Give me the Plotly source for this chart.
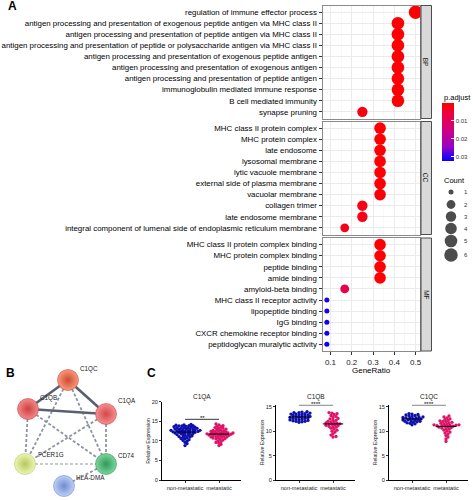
import plotly.graph_objects as go

W, H = 473, 500
FONT = "Liberation Sans, Arial, sans-serif"
TXT = "#000000"


def px_x(p):
    return p / W


def px_y(p):
    return 1 - p / H


# ---------------- Panel A data (GO enrichment) ----------------
bp_terms = [
    "regulation of immune effector process",
    "antigen processing and presentation of exogenous peptide antigen via MHC class II",
    "antigen processing and presentation of peptide antigen via MHC class II",
    "antigen processing and presentation of peptide or polysaccharide antigen via MHC class II",
    "antigen processing and presentation of exogenous peptide antigen",
    "antigen processing and presentation of exogenous antigen",
    "antigen processing and presentation of peptide antigen",
    "immunoglobulin mediated immune response",
    "B cell mediated immunity",
    "synapse pruning",
]
bp_ratio = [0.5, 0.417, 0.417, 0.417, 0.417, 0.417, 0.417, 0.417, 0.417, 0.25]
bp_count = [6, 5, 5, 5, 5, 5, 5, 5, 5, 3]
bp_padj = [0.0002, 0.0003, 0.0003, 0.0003, 0.0004, 0.0005, 0.0005, 0.0006, 0.0006, 0.0021]

cc_terms = [
    "MHC class II protein complex",
    "MHC protein complex",
    "late endosome",
    "lysosomal membrane",
    "lytic vacuole membrane",
    "external side of plasma membrane",
    "vacuolar membrane",
    "collagen trimer",
    "late endosome membrane",
    "integral component of lumenal side of endoplasmic reticulum membrane",
]
cc_ratio = [0.333, 0.333, 0.333, 0.333, 0.333, 0.333, 0.333, 0.25, 0.25, 0.167]
cc_count = [4, 4, 4, 4, 4, 4, 4, 3, 3, 2]
cc_padj = [0.0003, 0.0003, 0.0004, 0.0005, 0.0005, 0.0006, 0.0007, 0.0020, 0.0022, 0.0025]

mf_terms = [
    "MHC class II protein complex binding",
    "MHC protein complex binding",
    "peptide binding",
    "amide binding",
    "amyloid-beta binding",
    "MHC class II receptor activity",
    "lipopeptide binding",
    "IgG binding",
    "CXCR chemokine receptor binding",
    "peptidoglycan muralytic activity",
]
mf_ratio = [0.333, 0.333, 0.333, 0.333, 0.167, 0.083, 0.083, 0.083, 0.083, 0.083]
mf_count = [4, 4, 4, 4, 2, 1, 1, 1, 1, 1]
mf_padj = [0.0004, 0.0004, 0.0005, 0.0005, 0.0075, 0.0310, 0.0312, 0.0314, 0.0316, 0.0320]

x_ticks = [0.1, 0.2, 0.3, 0.4, 0.5]
count_levels = [1, 2, 3, 4, 5, 6]
padj_ticks = [0.01, 0.02, 0.03]

# ---------------- Panel B data (network) ----------------
net_nodes = ["C1QC", "C1QB", "C1QA", "FCER1G", "CD74", "HLA-DMA"]
net_edges_solid = [("C1QC", "C1QA"), ("C1QB", "C1QA"), ("C1QB", "C1QC")]
net_edges_dashed = [
    ("C1QC", "FCER1G"), ("C1QC", "CD74"), ("C1QB", "FCER1G"), ("C1QB", "CD74"),
    ("C1QA", "FCER1G"), ("C1QA", "CD74"), ("CD74", "HLA-DMA"),
]
net_edges_light = [("FCER1G", "CD74")]

# ---------------- Panel C data (expression) ----------------
groups = ["non-metastatic", "metastatic"]
c1qa_non = [14.2, 14.1, 14.0, 13.9, 13.9, 13.8, 13.8, 13.7, 13.6, 13.5, 13.5, 13.4, 13.4, 13.3,
            13.2, 13.2, 13.1, 13.0, 13.0, 12.9, 12.9, 12.8, 12.8, 12.7, 12.7, 12.6, 12.6, 12.5,
            12.5, 12.4, 12.4, 12.3, 12.3, 12.2, 12.2, 12.1, 12.0, 12.0, 11.9, 11.8, 11.8, 11.7,
            11.6, 11.5, 11.4, 11.3, 11.2, 11.1, 11.0, 10.9, 10.8, 10.6, 10.5, 10.3, 10.1, 9.9,
            9.6, 9.3, 8.8]
c1qa_met = [14.3, 14.1, 13.9, 13.7, 13.6, 13.4, 13.3, 13.2, 13.0, 12.9, 12.8, 12.7, 12.6, 12.5,
            12.4, 12.4, 12.3, 12.2, 12.1, 12.1, 12.0, 12.0, 11.9, 11.9, 11.8, 11.8, 11.7, 11.7,
            11.6, 11.6, 11.5, 11.5, 11.4, 11.3, 11.3, 11.2, 11.1, 11.0, 11.0, 10.9, 10.8, 10.7,
            10.6, 10.5, 10.4, 10.2, 10.0, 9.8, 9.6, 9.4, 9.1, 8.8]
c1qb_non = [14.0, 13.9, 13.8, 13.8, 13.7, 13.6, 13.5, 13.5, 13.4, 13.3, 13.3, 13.2, 13.1, 13.0,
            13.0, 12.9, 12.8, 12.8, 12.7, 12.6, 12.6, 12.5, 12.4, 12.3, 12.3, 12.2, 12.1, 12.0,
            12.0, 11.9, 11.8]
c1qb_met = [13.8, 13.7, 13.6, 13.4, 13.2, 13.0, 12.8, 12.6, 12.5, 12.3, 12.2, 12.0, 11.9, 11.8,
            11.7, 11.6, 11.5, 11.5, 11.4, 11.3, 11.2, 11.1, 11.0, 10.9, 10.8, 10.6, 10.4, 10.2,
            10.0, 9.8, 9.5, 9.2, 8.9, 8.8]
c1qc_non = [13.6, 13.5, 13.4, 13.3, 13.2, 13.1, 13.0, 12.9, 12.9, 12.8, 12.7, 12.7, 12.6, 12.5,
            12.5, 12.4, 12.3, 12.3, 12.2, 12.1, 12.0, 12.0, 11.9, 11.8, 11.7, 11.6, 11.5, 11.3]
c1qc_met = [13.1, 12.9, 12.7, 12.5, 12.4, 12.2, 12.1, 12.0, 11.9, 11.8, 11.7, 11.6, 11.5, 11.4,
            11.3, 11.3, 11.2, 11.2, 11.1, 11.1, 11.0, 11.0, 10.9, 10.8, 10.7, 10.6, 10.5, 10.4,
            10.2, 10.0, 9.8, 9.6, 9.4, 9.1, 8.8, 8.4, 7.9]
c_genes = ["C1QA", "C1QB", "C1QC"]
c_sig = ["**", "****", "****"]
c_sig_y = [15.5, 15.35, 15.35]
c_ymax = [20, 15, 15]


# ---------------- helpers (styling / layout) ----------------
def dot_size(c, cmin=1, cmax=6, smin=5.0, smax=13.5):
    return smin + ((c - cmin) / (cmax - cmin)) ** 0.5 * (smax - smin)


def swarm(vals, ppu_y, ppu_x, mind=2.3, step=1.0):
    order = sorted(range(len(vals)), key=lambda i: vals[i])
    placed = []
    offs = [0.0] * len(vals)
    cands = [0.0]
    for k in range(1, 60):
        cands += [k * step, -k * step]
    for i in order:
        y = vals[i] * ppu_y
        for c in cands:
            if all((c - px) ** 2 + (y - py) ** 2 >= mind ** 2 for px, py in placed):
                break
        placed.append((c, y))
        offs[i] = c / ppu_x
    return offs


def note(text, x, y, size, xref="paper", yref="paper", xanchor="center", yanchor="middle",
         color=TXT, angle=0, yshift=0):
    return dict(text=text, x=x, y=y, xref=xref, yref=yref, xanchor=xanchor, yanchor=yanchor,
                showarrow=False, textangle=angle, yshift=yshift,
                font=dict(size=size, color=color, family=FONT))


fig = go.Figure()
annotations = []
shapes = []

# ================= Panel A =================
facets = [
    ("BP", bp_terms, bp_ratio, bp_count, bp_padj, (5.5, 118.5)),
    ("CC", cc_terms, cc_ratio, cc_count, cc_padj, (121.5, 234.5)),
    ("MF", mf_terms, mf_ratio, mf_count, mf_padj, (238.0, 351.0)),
]
A_X0, A_X1 = 322.5, 420.0
layout_axes = {}
for i, (lab, terms, ratio, count, padj, (t, b)) in enumerate(facets):
    n = "" if i == 0 else str(i + 1)
    fig.add_trace(go.Scatter(
        x=ratio, y=terms, mode="markers",
        marker=dict(size=[dot_size(c) for c in count], color=[-p for p in padj],
                    coloraxis="coloraxis", line=dict(width=0), opacity=1),
        xaxis="x" + n, yaxis="y" + n, showlegend=False, hoverinfo="skip"))
    bottom = (i == 2)
    layout_axes["xaxis" + n] = dict(
        domain=[px_x(A_X0), px_x(A_X1)], range=[0.0625, 0.5208], anchor="y" + n,
        tickmode="array", tickvals=x_ticks, ticktext=[str(v) for v in x_ticks],
        showticklabels=bottom, ticks="outside" if bottom else "", ticklen=3,
        tickcolor="#333333", tickfont=dict(size=8, color="#1a1a1a", family=FONT),
        showgrid=True, gridcolor="#EBEBEB", gridwidth=1,
        minor=dict(tickvals=[0.15, 0.25, 0.35, 0.45], showgrid=True,
                   gridcolor="#F3F3F3", gridwidth=0.6),
        showline=True, linecolor="#8a8a8a", linewidth=1, mirror=True,
        zeroline=False, fixedrange=True)
    layout_axes["yaxis" + n] = dict(
        domain=[px_y(b), px_y(t)], type="category", categoryorder="array",
        categoryarray=terms, range=[len(terms) - 0.4, -0.6], anchor="x" + n,
        ticks="outside", ticklen=3, tickcolor="#333333",
        tickfont=dict(size=7.9, color=TXT, family=FONT),
        showgrid=True, gridcolor="#EBEBEB", gridwidth=1,
        showline=True, linecolor="#8a8a8a", linewidth=1, mirror=True,
        zeroline=False, automargin=False, fixedrange=True)
    shapes.append(dict(type="rect", xref="paper", yref="paper",
                       x0=px_x(421), x1=px_x(431.5), y0=px_y(b), y1=px_y(t),
                       fillcolor="#D9D9D9", line=dict(color="#4d4d4d", width=1)))
    annotations.append(note(lab, px_x(426.3), px_y((t + b) / 2), 6.5, angle=90,
                            color="#1a1a1a"))

annotations.append(note("GeneRatio", px_x((A_X0 + A_X1) / 2), px_y(370.5), 8.0))
annotations.append(note("p.adjust", px_x(441.5), px_y(98), 7.5, xanchor="left"))
annotations.append(note("Count", px_x(441.5), px_y(180), 7.5, xanchor="left"))

# Count size legend on its own hidden axes
leg_y = [192, 204.5, 216.5, 228.5, 241, 255]
fig.add_trace(go.Scatter(
    x=[451] * len(count_levels), y=leg_y, mode="markers",
    marker=dict(size=[dot_size(c) for c in count_levels], color="black", line=dict(width=0)),
    xaxis="x8", yaxis="y8", showlegend=False, hoverinfo="skip", cliponaxis=False))
for c, yy in zip(count_levels, leg_y):
    annotations.append(note(str(c), 462, yy, 6, xref="x8", yref="y8", xanchor="left",
                            color="#333333"))
layout_axes["xaxis8"] = dict(domain=[px_x(436), 1], range=[436, 473], visible=False,
                             anchor="y8", fixedrange=True)
layout_axes["yaxis8"] = dict(domain=[px_y(265), px_y(182)], range=[265, 182], visible=False,
                             anchor="x8", fixedrange=True)

# ================= Panel B (network) =================
node_pos = {"C1QC": (68, 380), "C1QB": (28, 409), "C1QA": (106, 414),
            "FCER1G": (25, 464), "CD74": (106, 464), "HLA-DMA": (64, 486)}
node_fill = {"C1QC": ("#F59A80", "#D2492E"), "C1QB": ("#F28A8A", "#CF3E3E"),
             "C1QA": ("#F49090", "#D24848"), "FCER1G": ("#EEF5B8", "#B5C95A"),
             "CD74": ("#7FD49C", "#2C9A5A"), "HLA-DMA": ("#BFD0F2", "#6D8CD2")}
label_pos = {"C1QC": (78, 369), "C1QB": (38, 398), "C1QA": (116, 401),
             "FCER1G": (36, 454), "CD74": (116, 455), "HLA-DMA": (74, 477)}


def edge_xy(edges):
    xs, ys = [], []
    for a, b in edges:
        xs += [node_pos[a][0], node_pos[b][0], None]
        ys += [node_pos[a][1], node_pos[b][1], None]
    return xs, ys


for edges, col, wd, dash in [(net_edges_light, "#B4B8C2", 1.6, "3px,2px"),
                             (net_edges_dashed, "#8C93A3", 1.8, "3px,2px"),
                             (net_edges_solid, "#5A6070", 2.6, "solid")]:
    ex, ey = edge_xy(edges)
    fig.add_trace(go.Scatter(x=ex, y=ey, mode="lines", line=dict(color=col, width=wd, dash=dash),
                             xaxis="x4", yaxis="y4", showlegend=False, hoverinfo="skip",
                             cliponaxis=False))
fig.add_trace(go.Scatter(
    x=[node_pos[n][0] for n in net_nodes], y=[node_pos[n][1] for n in net_nodes],
    mode="markers",
    marker=dict(size=21, color=[node_fill[n][0] for n in net_nodes],
                gradient=dict(type="radial", color=[node_fill[n][1] for n in net_nodes]),
                line=dict(width=0.6, color=[node_fill[n][1] for n in net_nodes])),
    xaxis="x4", yaxis="y4", showlegend=False, hoverinfo="skip", cliponaxis=False))
for n in net_nodes:
    lx, ly = label_pos[n]
    annotations.append(note(n, lx, ly, 6.3, xref="x4", yref="y4", xanchor="left",
                            color="#222222"))
layout_axes["xaxis4"] = dict(domain=[0, px_x(140)], range=[0, 140], visible=False,
                             anchor="y4", fixedrange=True)
layout_axes["yaxis4"] = dict(domain=[0, px_y(355)], range=[500, 355], visible=False,
                             anchor="x4", fixedrange=True)

# ================= Panel C (expression dot plots) =================
c_data = [(c1qa_non, c1qa_met), (c1qb_non, c1qb_met), (c1qc_non, c1qc_met)]
c_left = [162, 276, 389]
C_W = 79
PPU_X = 34.0
C_BOTTOM = 480
c_ppu_y = [3.915, 4.887, 4.887]
c_top_val = [20.0, 15.4, 15.4]
grp_col = ["#0E10AE", "#DE1468"]
for k in range(3):
    ax = str(5 + k)
    left = c_left[k]
    ppu = c_ppu_y[k]
    top_px = C_BOTTOM - c_top_val[k] * ppu
    for g, vals in enumerate(c_data[k]):
        offs = swarm(vals, ppu, PPU_X)
        fig.add_trace(go.Scatter(
            x=[g + o for o in offs], y=vals, mode="markers",
            marker=dict(size=3.3, color=grp_col[g], line=dict(width=0)),
            xaxis="x" + ax, yaxis="y" + ax, showlegend=False, hoverinfo="skip",
            cliponaxis=False))
        m = sum(vals) / len(vals)
        fig.add_trace(go.Scatter(
            x=[g - 0.3, g + 0.3], y=[m, m], mode="lines", line=dict(color="black", width=1),
            xaxis="x" + ax, yaxis="y" + ax, showlegend=False, hoverinfo="skip"))
    fig.add_trace(go.Scatter(
        x=[0, 1], y=[c_sig_y[k], c_sig_y[k]], mode="lines",
        line=dict(color="black", width=0.8), xaxis="x" + ax, yaxis="y" + ax,
        showlegend=False, hoverinfo="skip", cliponaxis=False))
    annotations.append(note(c_sig[k], 0.5, c_sig_y[k], 6, xref="x" + ax, yref="y" + ax,
                            yanchor="middle", color="black", yshift=1))
    layout_axes["xaxis" + ax] = dict(
        domain=[px_x(left), px_x(left + C_W)], range=[-23 / PPU_X, 1 + 22 / PPU_X],
        anchor="y" + ax, tickmode="array", tickvals=[0, 1], ticktext=groups,
        ticks="outside", ticklen=2, tickwidth=0.8, tickcolor="black",
        tickfont=dict(size=5.6, color="#222222", family=FONT),
        showline=True, linecolor="black", linewidth=1, showgrid=False, zeroline=False,
        fixedrange=True)
    yt = list(range(0, c_ymax[k] + 1, 5))
    layout_axes["yaxis" + ax] = dict(
        domain=[px_y(C_BOTTOM), px_y(top_px)], range=[0, c_top_val[k]], anchor="x" + ax,
        tickmode="array", tickvals=yt, ticktext=[str(v) for v in yt],
        ticks="outside", ticklen=2, tickwidth=0.8, tickcolor="black",
        tickfont=dict(size=5.6, color="#222222", family=FONT),
        showline=True, linecolor="black", linewidth=1, showgrid=False, zeroline=False,
        fixedrange=True)
    annotations.append(note(c_genes[k], px_x(left + C_W / 2), px_y(397), 6.5, color="#222222"))
    annotations.append(note("Relative Expression", px_x(left - 14),
                            px_y((C_BOTTOM + top_px) / 2), 5.2, color="#222222", angle=-90))

# panel letters
for lab, (lx, ly) in {"A": (12.5, 5.5), "B": (10.5, 373), "C": (151.7, 372.5)}.items():
    annotations.append(note("<b>" + lab + "</b>", px_x(lx), px_y(ly), 12, color="black"))

fig.update_layout(
    template="none",
    width=W, height=H, autosize=False,
    margin=dict(l=0, r=0, t=0, b=0, pad=0),
    paper_bgcolor="white", plot_bgcolor="white",
    font=dict(family=FONT, color=TXT),
    showlegend=False,
    coloraxis=dict(
        cmin=-0.0325, cmax=0.0,
        colorscale=[[0, "#0000FF"], [0.25, "#9A00C3"], [0.5, "#C90089"],
                    [0.75, "#E80050"], [1, "#FF0000"]],
        colorbar=dict(x=px_x(442), xanchor="left", y=px_y(103), yanchor="top",
                      len=58 / H, lenmode="fraction", thickness=12, thicknessmode="pixels",
                      xpad=0, ypad=0, outlinewidth=0,
                      tickmode="array", tickvals=[-v for v in padj_ticks],
                      ticktext=[str(v) for v in padj_ticks],
                      ticks="inside", ticklen=3, tickcolor="white",
                      tickfont=dict(size=6, color="#333333", family=FONT),
                      title=dict(text=""))),
    annotations=annotations, shapes=shapes,
    **layout_axes,
)

fig.write_html("out.html", config={"displayModeBar": False, "staticPlot": True},
               post_script="document.body.style.margin='0';document.body.style.padding='0';")
